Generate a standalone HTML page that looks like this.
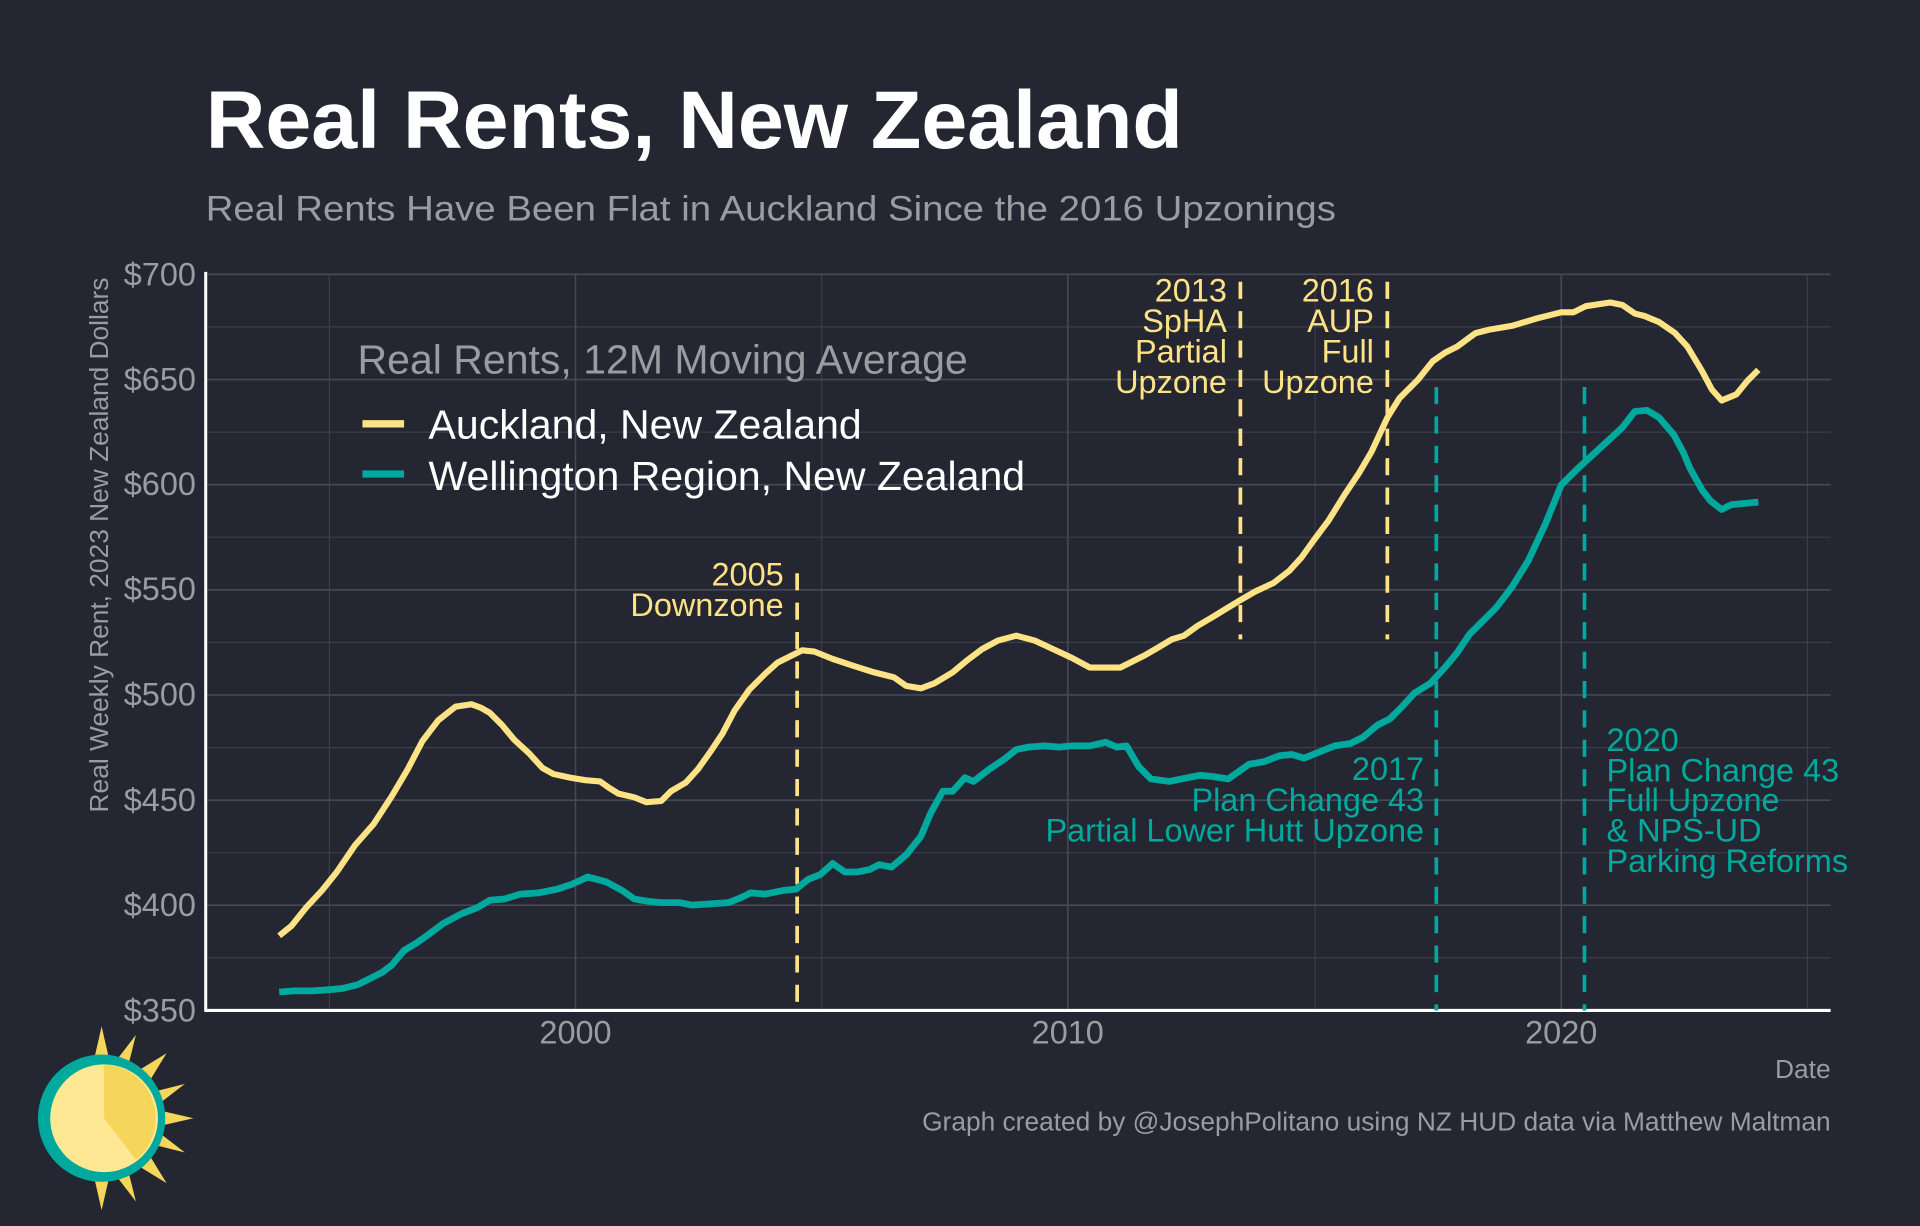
<!DOCTYPE html>
<html><head><meta charset="utf-8"><style>
html,body{margin:0;padding:0;background:#242731;}
svg{display:block;}
text{font-family:"Liberation Sans",Arial,sans-serif;}
</style></head><body>
<svg width="1920" height="1226" viewBox="0 0 1568 1001" preserveAspectRatio="none" xmlns="http://www.w3.org/2000/svg">
<rect width="1568" height="1001" fill="#242731"/>
<text x="168" y="121" font-size="67" font-weight="bold" fill="#ffffff" textLength="798" lengthAdjust="spacingAndGlyphs">Real Rents, New Zealand</text>
<text x="168" y="180" font-size="29" fill="#9a9ca1" textLength="923" lengthAdjust="spacingAndGlyphs">Real Rents Have Been Flat in Auckland Since the 2016 Upzonings</text>
<g stroke="#3a3e48" stroke-width="1">
<line x1="168" x2="1495" y1="266.9" y2="266.9"/><line x1="168" x2="1495" y1="352.8" y2="352.8"/><line x1="168" x2="1495" y1="438.6" y2="438.6"/><line x1="168" x2="1495" y1="524.5" y2="524.5"/><line x1="168" x2="1495" y1="610.4" y2="610.4"/><line x1="168" x2="1495" y1="696.2" y2="696.2"/><line x1="168" x2="1495" y1="782.1" y2="782.1"/>
<line x1="269" x2="269" y1="224" y2="825"/><line x1="671" x2="671" y1="224" y2="825"/><line x1="1074" x2="1074" y1="224" y2="825"/><line x1="1476" x2="1476" y1="224" y2="825"/>
</g>
<g stroke="#454955" stroke-width="1.3">
<line x1="168" x2="1495" y1="224" y2="224"/><line x1="168" x2="1495" y1="309.9" y2="309.9"/><line x1="168" x2="1495" y1="395.7" y2="395.7"/><line x1="168" x2="1495" y1="481.6" y2="481.6"/><line x1="168" x2="1495" y1="567.4" y2="567.4"/><line x1="168" x2="1495" y1="653.3" y2="653.3"/><line x1="168" x2="1495" y1="739.1" y2="739.1"/>
<line x1="470" x2="470" y1="224" y2="825"/><line x1="872" x2="872" y1="224" y2="825"/><line x1="1275" x2="1275" y1="224" y2="825"/>
</g>
<line x1="168" x2="168" y1="222" y2="826" stroke="#fff" stroke-width="2.5"/>
<line x1="167" x2="1495" y1="825" y2="825" stroke="#fff" stroke-width="2.5"/>
<g font-size="26.5" fill="#9a9ca1" text-anchor="end">
<text x="160" y="233">$700</text><text x="160" y="319">$650</text><text x="160" y="404">$600</text><text x="160" y="490">$550</text><text x="160" y="576">$500</text><text x="160" y="662">$450</text><text x="160" y="748">$400</text><text x="160" y="834">$350</text>
</g>
<g font-size="26.5" fill="#9a9ca1" text-anchor="middle">
<text x="470" y="852">2000</text><text x="872" y="852">2010</text><text x="1275" y="852">2020</text>
</g>
<text x="1495" y="880" font-size="21.5" fill="#9a9ca1" text-anchor="end">Date</text>
<text transform="translate(88,445) rotate(-90)" font-size="21.5" fill="#9a9ca1" text-anchor="middle">Real Weekly Rent, 2023 New Zealand Dollars</text>
<text x="1495" y="923" font-size="21.5" fill="#9a9ca1" text-anchor="end">Graph created by @JosephPolitano using NZ HUD data via Matthew Maltman</text>
<!-- legend -->
<text x="292" y="305" font-size="33.5" fill="#9a9ca1">Real Rents, 12M Moving Average</text>
<line x1="296" x2="330" y1="346" y2="346" stroke="#fde385" stroke-width="6"/>
<line x1="296" x2="330" y1="387" y2="387" stroke="#00a99d" stroke-width="6"/>
<text x="350" y="358" font-size="33.5" fill="#ffffff">Auckland, New Zealand</text>
<text x="350" y="400" font-size="33.5" fill="#ffffff">Wellington Region, New Zealand</text>
<!-- vlines -->
<g stroke-width="3" stroke-dasharray="14,10" fill="none">
<line x1="651" x2="651" y1="468" y2="825" stroke="#fde385"/>
<line x1="1013" x2="1013" y1="230" y2="522" stroke="#fde385"/>
<line x1="1133" x2="1133" y1="230" y2="522" stroke="#fde385"/>
<line x1="1173" x2="1173" y1="316" y2="825" stroke="#00a99d"/>
<line x1="1294" x2="1294" y1="316" y2="825" stroke="#00a99d"/>
</g>
<g font-size="26.5" fill="#fde385" text-anchor="end">
<text x="640" y="478">2005</text><text x="640" y="503">Downzone</text>
<text x="1002" y="246">2013</text><text x="1002" y="271">SpHA</text><text x="1002" y="296">Partial</text><text x="1002" y="321">Upzone</text>
<text x="1122" y="246">2016</text><text x="1122" y="271">AUP</text><text x="1122" y="296">Full</text><text x="1122" y="321">Upzone</text>
</g>
<g font-size="26.5" fill="#00a99d">
<text x="1163" y="637" text-anchor="end">2017</text><text x="1163" y="662" text-anchor="end">Plan Change 43</text><text x="1163" y="687" text-anchor="end">Partial Lower Hutt Upzone</text>
<text x="1312" y="613">2020</text><text x="1312" y="638">Plan Change 43</text><text x="1312" y="662">Full Upzone</text><text x="1312" y="687">&amp; NPS-UD</text><text x="1312" y="712">Parking Reforms</text>
</g>
<polyline fill="none" stroke="#00a99d" stroke-width="5.5" stroke-linejoin="round" points="228,810 240,809 255,809 270,808 280,807 292,804 302,799 312,794 320,788 330,776 340,770 350,763 362,754 377,746 390,741 400,735 412,734 425,730 440,729 455,726 467,722 480,716 495,720 508,727 518,734 530,736 540,737 555,737 565,739 580,738 595,737 605,733 613,729 625,730 640,727 650,726 660,718 670,714 680,705 690,712 700,712 710,710 718,706 728,708 740,698 752,683 760,664 770,646 778,646 788,635 795,638 808,628 820,620 830,612 840,610 853,609 865,610 875,609 890,609 903,606 912,610 920,609 930,626 940,636 955,638 970,635 980,633 990,634 1003,636 1013,629 1020,624 1032,622 1045,617 1055,616 1065,619 1080,613 1090,609 1103,607 1113,602 1125,592 1135,587 1145,577 1155,566 1168,558 1180,545 1190,533 1200,518 1210,508 1222,496 1235,479 1248,458 1262,428 1275,396 1288,383 1300,372 1312,361 1325,349 1335,336 1345,335 1355,341 1367,355 1375,370 1380,382 1390,400 1397,409 1406,416 1414,412 1436,410"/>
<polyline fill="none" stroke="#fde385" stroke-width="5" stroke-linejoin="round" points="228,764 238,756 250,741 263,727 275,712 290,690 305,673 320,650 333,628 345,605 358,588 372,577 385,575 393,578 400,582 410,592 420,604 432,615 443,627 452,632 466,635 478,637 490,638 497,643 505,648 518,651 528,655 540,654 548,646 560,639 570,628 580,614 590,599 600,580 612,563 625,550 635,541 645,536 655,531 665,532 680,538 698,544 714,549 730,553 740,560 752,562 763,558 778,549 790,539 802,530 815,523 830,519 845,523 860,530 875,537 890,545 905,545 915,545 925,540 935,535 947,528 957,522 967,519 978,511 990,504 1003,496 1013,490 1025,483 1040,476 1053,466 1063,455 1073,441 1085,425 1098,404 1110,386 1120,369 1133,341 1143,325 1158,310 1170,295 1180,288 1190,283 1205,272 1217,269 1235,266 1255,260 1275,255 1285,255 1295,250 1315,247 1325,249 1335,256 1343,258 1355,263 1368,272 1378,283 1390,303 1398,318 1406,327 1418,322 1427,311 1436,302"/>
<!-- sun logo -->
<g transform="translate(83,913)">
<g fill="#f5d65a">
<polygon points="0,-75 8,-40 -8,-40"/><polygon points="0,75 8,40 -8,40"/><polygon points="75,0 40,8 40,-8"/>
<polygon points="53,-53 34,-22 22,-34"/><polygon points="53,53 22,34 34,22"/>
<polygon points="28,-68 20,-36 8,-42"/><polygon points="68,-28 42,-8 36,-20"/>
<polygon points="68,28 36,20 42,8"/><polygon points="28,68 8,42 20,36"/>
</g>
<circle r="52" fill="#00a99d"/>
<circle r="44" cx="2" fill="#ffe894"/>
<path d="M2,0 L2,-44 A44,44 0 0 1 28,34 Z" fill="#f5d65a"/>
</g>
</svg>
</body></html>
